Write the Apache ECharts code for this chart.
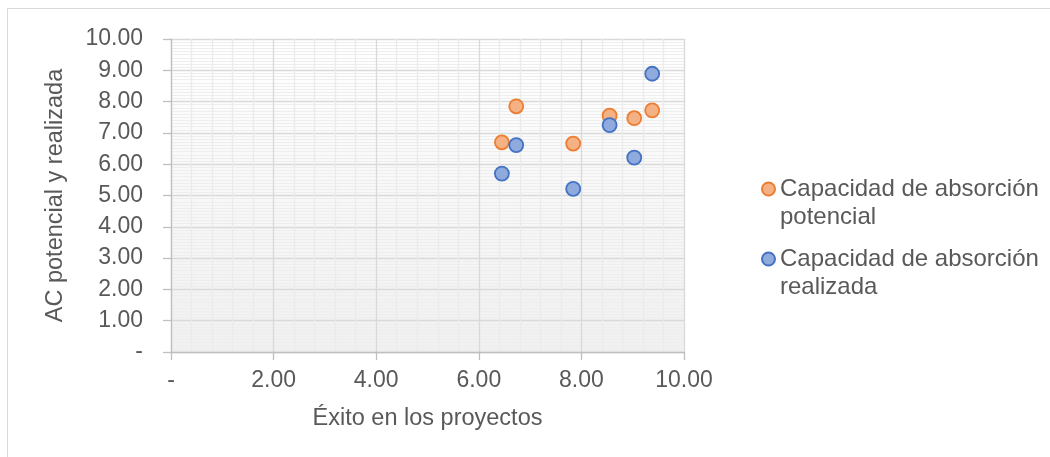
<!DOCTYPE html>
<html>
<head>
<meta charset="utf-8">
<script src="https://cdn.jsdelivr.net/npm/echarts@6/dist/echarts.min.js"></script>
<style>
  html, body { margin: 0; padding: 0; background: #fff; }
  #chart { width: 1050px; height: 457px; }
</style>
</head>
<body>
<div id="chart"></div>
<script>
// datos
const exito = [6.45, 6.73, 7.84, 8.55, 9.03, 9.38]
const acPotencial = [6.70, 7.85, 6.66, 7.55, 7.47, 7.72]
const acRealizada = [5.70, 6.61, 5.21, 7.25, 6.21, 8.89]
const seriesNames = ['Capacidad de absorción potencial', 'Capacidad de absorción realizada']
const legendLabels = ['Capacidad de absorción\npotencial', 'Capacidad de absorción\nrealizada']

const fontFamily = '"Liberation Sans", Arial, sans-serif'
const textColor = '#595959'

const fmt = v => (v === 0 ? '-' : v.toFixed(2))

const chart = echarts.init(document.getElementById('chart'))

const axisCommon = {
  type: 'value',
  min: 0,
  max: 10,
  nameLocation: 'middle',
  nameTextStyle: { fontFamily, fontSize: 23.5, color: textColor },
  axisLine: { show: true, lineStyle: { color: '#bfbfbf', width: 1.3 } },
  axisTick: { show: true, length: 8, lineStyle: { color: '#bfbfbf', width: 1.3 } },
  splitLine: { show: true, lineStyle: { color: '#d9d9d9', width: 1.3 } },
  minorTick: { show: false },
}

chart.setOption({
  animation: false,
  backgroundColor: '#ffffff',
  graphic: [
    {
      type: 'rect',
      shape: { x: 7.5, y: 8.5, width: 1100, height: 500 },
      style: { fill: 'none', stroke: '#d9d9d9', lineWidth: 1 },
      silent: true,
      z: -10,
    },
  ],
  grid: {
    left: 171,
    right: 366,
    top: 39,
    bottom: 105,
    show: true,
    borderWidth: 0,
    backgroundColor: new echarts.graphic.LinearGradient(0, 0, 0, 1, [
      { offset: 0, color: '#ffffff' },
      { offset: 1, color: '#f0f0f0' },
    ]),
  },
  xAxis: {
    ...axisCommon,
    interval: 2,
    name: 'Éxito en los proyectos',
    nameGap: 55,
    axisLabel: { fontFamily, fontSize: 23, color: textColor, margin: 17, formatter: fmt },
    minorTick: { show: false, splitNumber: 5 },
    minorSplitLine: { show: true, lineStyle: { color: '#ebebeb', width: 1.3 } },
  },
  yAxis: {
    ...axisCommon,
    interval: 1,
    name: 'AC potencial y realizada',
    nameGap: 103,
    axisLabel: { fontFamily, fontSize: 23, color: textColor, margin: 28, formatter: fmt },
    minorTick: { show: false, splitNumber: 10 },
    minorSplitLine: { show: true, lineStyle: { color: '#eeeeee', width: 1 } },
  },
  legend: {
    orient: 'vertical',
    left: 756,
    top: 142,
    icon: 'circle',
    itemWidth: 13,
    itemHeight: 13,
    itemGap: -14,
    data: seriesNames,
    // línea vacía arriba para alinear el icono con la primera línea
    formatter: name => '\n' + legendLabels[seriesNames.indexOf(name)],
    textStyle: {
      fontFamily,
      fontSize: 24,
      color: textColor,
      lineHeight: 28,
    },
  },
  series: [
    {
      name: seriesNames[0],
      type: 'scatter',
      symbol: 'circle',
      symbolSize: 14,
      data: exito.map((x, i) => [x, acPotencial[i]]),
      itemStyle: { color: '#f4b183', borderColor: '#ed7d31', borderWidth: 1.8, opacity: 1 },
    },
    {
      name: seriesNames[1],
      type: 'scatter',
      symbol: 'circle',
      symbolSize: 14,
      data: exito.map((x, i) => [x, acRealizada[i]]),
      itemStyle: { color: '#8faadc', borderColor: '#4472c4', borderWidth: 1.8, opacity: 1 },
    },
  ],
})
</script>
</body>
</html>
